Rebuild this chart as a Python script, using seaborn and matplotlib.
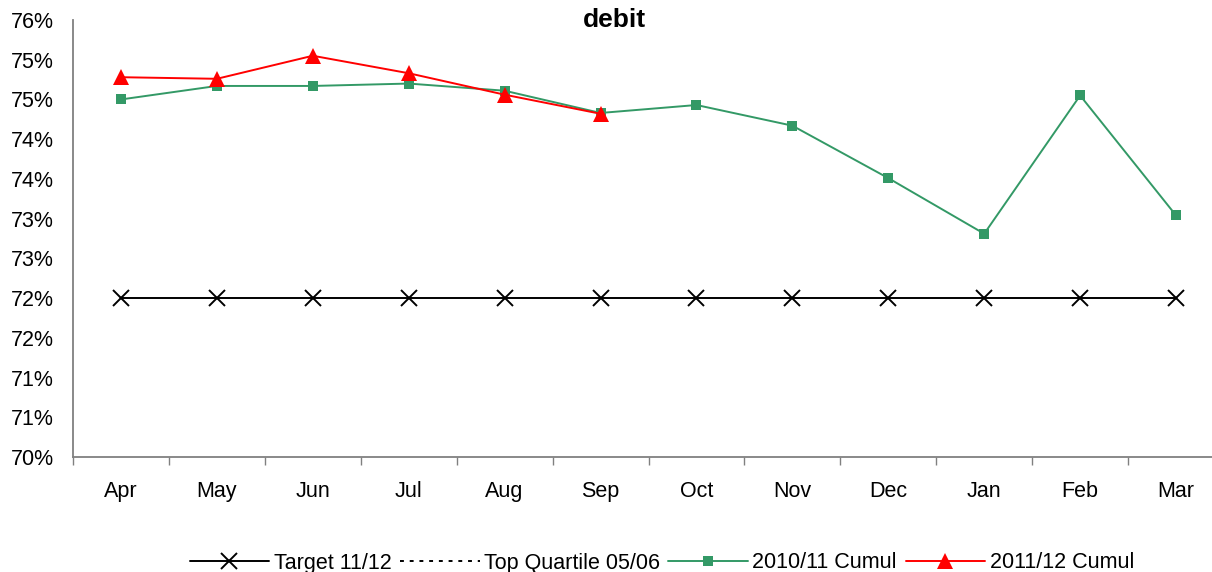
import numpy as np
import pandas as pd
import seaborn as sns
import matplotlib.pyplot as plt
from matplotlib.lines import Line2D
from matplotlib.ticker import FixedLocator, FuncFormatter
import math

months = ['Apr', 'May', 'Jun', 'Jul', 'Aug', 'Sep', 'Oct', 'Nov', 'Dec', 'Jan', 'Feb', 'Mar']
target_1112 = [72.0] * 12
cumul_1011 = [74.50, 74.67, 74.67, 74.70, 74.61, 74.33, 74.43, 74.17, 73.51, 72.81, 74.55, 73.04]
cumul_1112 = [74.78, 74.76, 75.05, 74.83, 74.56, 74.32]
yticks = [70.0, 70.5, 71.0, 71.5, 72.0, 72.5, 73.0, 73.5, 74.0, 74.5, 75.0, 75.5]

sns.set_style('ticks')
plt.rcParams['font.family'] = ['Liberation Sans', 'DejaVu Sans']
plt.rcParams['text.color'] = 'black'
plt.rcParams['xtick.labelcolor'] = 'black'
plt.rcParams['ytick.labelcolor'] = 'black'

df = pd.DataFrame({'month': months, 'target': target_1112, 'c1011': cumul_1011})
df2 = pd.DataFrame({'month': months[:len(cumul_1112)], 'c1112': cumul_1112})

fig = plt.figure(figsize=(12.12, 5.72), dpi=100)
ax = fig.add_axes([73 / 1212, 115 / 572, 1151 / 1212, 437 / 572])

green = '#339966'
sns.lineplot(data=df, x='month', y='target', ax=ax, color='black', lw=1.4,
             marker='x', markersize=11, markeredgewidth=1.4, markeredgecolor='black', sort=False)
sns.lineplot(data=df, x='month', y='c1011', ax=ax, color=green, lw=1.4,
             marker='s', markersize=7, markeredgewidth=0, markeredgecolor=green, sort=False)
sns.lineplot(data=df2, x='month', y='c1112', ax=ax, color='red', lw=1.4,
             marker='^', markersize=12, markeredgewidth=0, markeredgecolor='red', sort=False)

ax.set_xlim(-0.5, 11.5)
ax.set_ylim(70, 75.5)
ax.yaxis.set_major_locator(FixedLocator(yticks))
ax.yaxis.set_major_formatter(FuncFormatter(lambda v, p: '%d%%' % math.floor(v + 0.5 + 1e-9)))
ax.set_xticks(range(12))
ax.set_xticklabels(months)
ax.set_xticks(np.arange(-0.5, 11.6, 1), minor=True)
ax.tick_params(axis='x', which='major', length=0, pad=17, labelsize=15.5)
ax.tick_params(axis='x', which='minor', length=6, width=1, color='#808080', direction='out')
ax.tick_params(axis='y', length=0, pad=14, labelsize=15.5)
ax.set_xlabel('')
ax.set_ylabel('')
for s in ['top', 'right']:
    ax.spines[s].set_visible(False)
for s in ['left', 'bottom']:
    ax.spines[s].set_color('#808080')
    ax.spines[s].set_linewidth(1.3)

fig.text(614 / 1212, 1 - 20 / 572, 'debit', ha='center', va='center',
         fontsize=19, fontweight='bold')

handles = [
    Line2D([], [], color='black', lw=1.4, marker='x', markersize=11, markeredgewidth=1.4),
    Line2D([], [], color='black', lw=1.4, linestyle=(0, (2, 3))),
    Line2D([], [], color=green, lw=1.4, marker='s', markersize=7, markeredgewidth=0),
    Line2D([], [], color='red', lw=1.4, marker='^', markersize=12, markeredgewidth=0),
]
labels = ['Target 11/12', 'Top Quartile 05/06', '2010/11 Cumul', '2011/12 Cumul']
fig.legend(handles, labels, loc='center', bbox_to_anchor=(0.546, 9 / 572), ncol=4,
           frameon=False, fontsize=15.5, handlelength=3.7, handletextpad=0.2,
           columnspacing=0.4)

fig.savefig('out.png', dpi=100)
